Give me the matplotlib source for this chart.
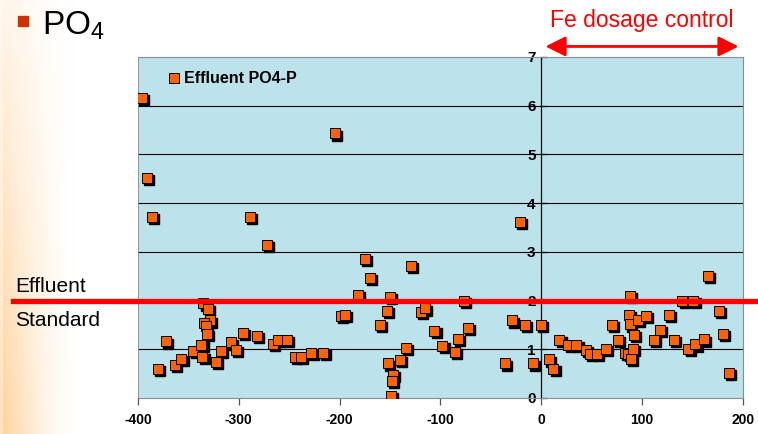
import matplotlib
matplotlib.use('Agg')
import matplotlib.pyplot as plt
import matplotlib.transforms as mtransforms
from matplotlib.patches import Rectangle
from matplotlib.lines import Line2D
import numpy as np

plt.rcParams['font.family'] = ['Liberation Sans', 'DejaVu Sans']
plt.rcParams['mathtext.default'] = 'regular'
plt.rcParams['axes.unicode_minus'] = False

# days relative to start of Fe dosage control, effluent PO4-P (mg/l)
days = [-396, -391, -386, -380, -372, -363, -357, -345, -337, -336,
        -335, -331, -329, -334, -333, -332, -323, -318, -308, -303,
        -296, -289, -282, -272, -266, -261, -252, -244, -238, -228,
        -216, -205, -199, -195, -182, -175, -170, -160, -153, -150,
        -152, -147, -148, -149, -140, -134, -129, -119, -115, -106,
        -98, -86, -83, -77, -73, -36, -29, -21, -16, -8,
        0, 8, 12, 18, 27, 35, 44, 48, 55, 64,
        70, 76, 83, 86, 88, 87, 88, 96, 104, 92,
        91, 89, 112, 118, 127, 132, 140, 151, 146, 153,
        161, 165, 176, 180, 186]
po4 = [6.15, 4.51, 3.71, 0.59, 1.16, 0.68, 0.81, 0.96, 1.09, 0.85,
       1.94, 1.82, 1.59, 1.53, 1.48, 1.31, 0.74, 0.97, 1.14, 0.99,
       1.33, 3.71, 1.27, 3.14, 1.11, 1.19, 1.19, 0.85, 0.84, 0.92,
       0.93, 5.43, 1.69, 1.70, 2.11, 2.85, 2.46, 1.50, 1.79, 2.08,
       0.71, 0.47, 0.35, 0.04, 0.78, 1.03, 2.71, 1.76, 1.84, 1.38,
       1.07, 0.95, 1.21, 2.00, 1.44, 0.71, 1.59, 3.61, 1.50, 0.71,
       1.50, 0.79, 0.60, 1.19, 1.09, 1.09, 0.99, 0.90, 0.90, 1.00,
       1.50, 1.19, 0.92, 0.90, 2.10, 1.70, 1.51, 1.60, 1.69, 1.29,
       1.00, 0.80, 1.19, 1.40, 1.70, 1.19, 2.00, 2.00, 1.00, 1.10,
       1.20, 2.50, 1.79, 1.31, 0.51]
x_ticks = [-400, -300, -200, -100, 0, 100, 200]
y_ticks = [0, 1, 2, 3, 4, 5, 6, 7]
standard = 2.0

fig = plt.figure(figsize=(7.58, 4.34), dpi=100)

# slide template: warm fade on the left edge
bg = fig.add_axes([0, 0, 0.11, 1], zorder=0)
gx = np.linspace(0, 1, 80)
gy = np.linspace(0, 1, 200)
X, Y = np.meshgrid(gx, gy)
strength = np.clip(1 - X * 1.1, 0, 1) ** 1.5 * (0.2 + 0.7 * Y)
strength[:, :3] *= 0.6
img = np.ones((200, 80, 3))
img[..., 1] = 1 - 0.2 * strength
img[..., 2] = 1 - 0.45 * strength
bg.imshow(img, aspect='auto', extent=[0, 1, 0, 1], origin='upper')
bg.axis('off')

ax = fig.add_axes([0.182, 0.083, 0.798, 0.786], zorder=1)
ax.set_facecolor('#bce2ec')
ax.set_xlim(-400, 200)
ax.set_ylim(0, 7)

for y in y_ticks[1:-1]:
    ax.axhline(y, color='black', lw=0.8, zorder=1)

# y axis crosses at x = 0
ax.spines['left'].set_position(('data', 0))
ax.spines['left'].set_color('black')
ax.spines['left'].set_linewidth(0.9)
for s in ['top', 'right', 'bottom']:
    ax.spines[s].set_color('#8c8c8c')
ax.axvline(-400, color='#8c8c8c', lw=1.2, zorder=1)

ax.set_xticks(x_ticks)
ax.set_yticks(y_ticks)
ax.tick_params(axis='x', length=5, width=0.9, color='#555555', pad=6,
               labelsize=10)
ax.tick_params(axis='y', direction='in', length=4, width=0.9, pad=4,
               labelsize=11)
for lab in ax.get_xticklabels() + ax.get_yticklabels():
    lab.set_fontweight('bold')

# markers with drop shadow
shadow = mtransforms.offset_copy(ax.transData, fig=fig, x=2.2, y=-2.2,
                                 units='dots')
ax.plot(days, po4, 's', color='black', ms=7.5, transform=shadow, zorder=3)
ax.plot(days, po4, 's', color='#ff6200', mec='black', mew=0.7, ms=7.5,
        zorder=4, label='Effluent PO4-P')

leg = ax.legend(loc='upper left', bbox_to_anchor=(0.03, 0.99), frameon=False,
                handletextpad=0.25, handlelength=0.8, borderpad=0.2,
                prop={'weight': 'bold', 'size': 11.5})

# effluent standard line across whole slide
trans = mtransforms.blended_transform_factory(fig.transFigure, ax.transData)
fig.lines.append(Line2D([0.017, 1.0], [standard, standard], transform=trans,
                        color='#ff0000', lw=3.8, zorder=10))
fig.text(0.02, 0.339, 'Effluent', fontsize=15, va='center', ha='left')
fig.text(0.02, 0.262, 'Standard', fontsize=15, va='center', ha='left')

# slide title
fig.patches.append(Rectangle((0.024, 0.94), 0.013, 0.022, transform=fig.transFigure,
                             color='#cc3300'))
fig.text(0.055, 0.94, r'$PO_4$', fontsize=24, va='center', ha='left')

# Fe dosage control period
fig.text(0.846, 0.953, 'Fe dosage control', color='#ff0000', fontsize=16.5,
         ha='center', va='center')
fig.add_artist(matplotlib.patches.FancyArrowPatch(
    (0.716, 0.893), (0.978, 0.893), transform=fig.transFigure,
    arrowstyle='<|-|>,head_length=6,head_width=3', color='#ff0000',
    lw=2, mutation_scale=2))

fig.savefig('out.png', dpi=100)
